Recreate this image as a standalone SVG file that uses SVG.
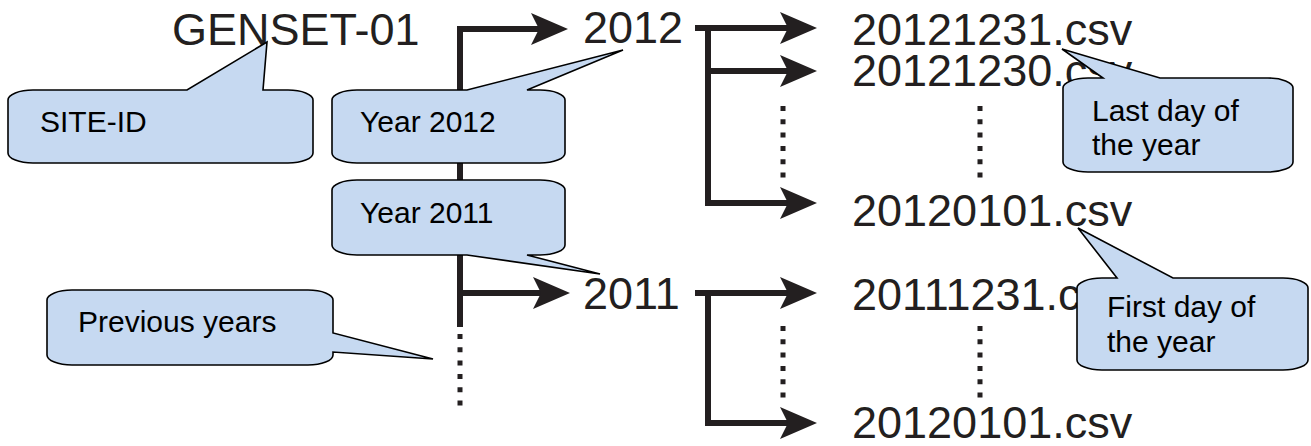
<svg xmlns="http://www.w3.org/2000/svg" width="1311" height="446" viewBox="0 0 1311 446">
  <style>
    .big { font-family: "Liberation Sans", Arial, sans-serif; font-size: 45px; fill: #231f20; }
    .lbl { font-family: "Liberation Sans", Arial, sans-serif; font-size: 30px; fill: #000000; }
    .bubble { fill: #c6d9f1; stroke: #000000; stroke-width: 1.6; stroke-linejoin: miter; }
    .ln { fill: none; stroke: #231f20; stroke-width: 6; stroke-linejoin: miter; }
    .dot { fill: none; stroke: #231f20; stroke-width: 5; stroke-dasharray: 5 8.3; }
  </style>
  <defs>
    <marker id="ah" markerUnits="userSpaceOnUse" markerWidth="40" markerHeight="34" refX="12" refY="16" orient="auto" overflow="visible">
      <path d="M0,0 L37,16 L0,32 L8,16 Z" fill="#231f20"/>
    </marker>
  </defs>
  <rect x="0" y="0" width="1311" height="446" fill="#ffffff"/>

  <g id="connectors">
    <path class="ln" d="M460,327 V29 H543" marker-end="url(#ah)"/>
    <path class="ln" d="M460,293 H545" marker-end="url(#ah)"/>
    <line class="dot" x1="460" y1="334" x2="460" y2="406"/>
    <path class="ln" d="M695,28 H792" marker-end="url(#ah)"/>
    <path class="ln" d="M708,28 V203 H792" marker-end="url(#ah)"/>
    <path class="ln" d="M708,71 H792" marker-end="url(#ah)"/>
    <path class="ln" d="M695,293 H792" marker-end="url(#ah)"/>
    <path class="ln" d="M708,293 V423 H792" marker-end="url(#ah)"/>
    <line class="dot" x1="783" y1="106" x2="783" y2="178"/>
    <line class="dot" x1="980" y1="106" x2="980" y2="178"/>
    <line class="dot" x1="783" y1="326" x2="783" y2="398"/>
    <line class="dot" x1="980" y1="326" x2="980" y2="398"/>
  </g>

  <g id="genset"><text class="big" x="172" y="45">GENSET-01</text></g>
  <g id="year2012"><text class="big" x="583" y="43">2012</text></g>
  <g id="year2011"><text class="big" x="583" y="309">2011</text></g>
  <g id="f20121231"><text class="big" x="852" y="45">20121231.csv</text></g>
  <g id="f20121230"><text class="big" x="852" y="86">20121230.csv</text></g>
  <g id="f20120101a"><text class="big" x="852" y="226">20120101.csv</text></g>
  <g id="f20111231"><text class="big" x="852" y="310">20111231.csv</text></g>
  <g id="f20120101b"><text class="big" x="852" y="438">20120101.csv</text></g>

  <g id="callout-siteid">
    <path class="bubble" d="M33,90 L187,90 L267,42 L263,90 L288,90 A25,10 0 0 1 313,100 L313,153 A25,10 0 0 1 288,163 L33,163 A25,10 0 0 1 8,153 L8,100 A25,10 0 0 1 33,90 Z"/>
    <text class="lbl" x="40" y="132">SITE-ID</text>
  </g>
  <g id="callout-year2012">
    <path class="bubble" d="M357,90 L467,90 L623,50 L527,90 L540,90 A25,10 0 0 1 565,100 L565,153 A25,10 0 0 1 540,163 L357,163 A25,10 0 0 1 332,153 L332,100 A25,10 0 0 1 357,90 Z"/>
    <text class="lbl" x="360" y="132">Year 2012</text>
  </g>
  <g id="callout-year2011">
    <path class="bubble" d="M357,180 L540,180 A25,10 0 0 1 565,190 L565,245 A25,10 0 0 1 540,255 L527,255 L600,274 L467,255 L357,255 A25,10 0 0 1 332,245 L332,190 A25,10 0 0 1 357,180 Z"/>
    <text class="lbl" x="360" y="223">Year 2011</text>
  </g>
  <g id="callout-previous">
    <path class="bubble" d="M72,290 L308,290 A25,10 0 0 1 333,300 L333,333 L433,359 L333,352 L333,355 A25,10 0 0 1 308,365 L72,365 A25,10 0 0 1 47,355 L47,300 A25,10 0 0 1 72,290 Z"/>
    <text class="lbl" x="78" y="332">Previous years</text>
  </g>
  <g id="callout-lastday">
    <path class="bubble" d="M1088,78 L1103,78 L1062,49 L1160,78 L1268,78 A25,10 0 0 1 1293,88 L1293,162 A25,10 0 0 1 1268,172 L1088,172 A25,10 0 0 1 1063,162 L1063,88 A25,10 0 0 1 1088,78 Z"/>
    <text class="lbl" x="1092" y="121">Last day of</text>
    <text class="lbl" x="1092" y="155">the year</text>
  </g>
  <g id="callout-firstday">
    <path class="bubble" d="M1102,278 L1117,278 L1078,228 L1173,278 L1283,278 A25,10 0 0 1 1308,288 L1308,360 A25,10 0 0 1 1283,370 L1102,370 A25,10 0 0 1 1077,360 L1077,288 A25,10 0 0 1 1102,278 Z"/>
    <text class="lbl" x="1107" y="317">First day of</text>
    <text class="lbl" x="1107" y="352">the year</text>
  </g>
</svg>
